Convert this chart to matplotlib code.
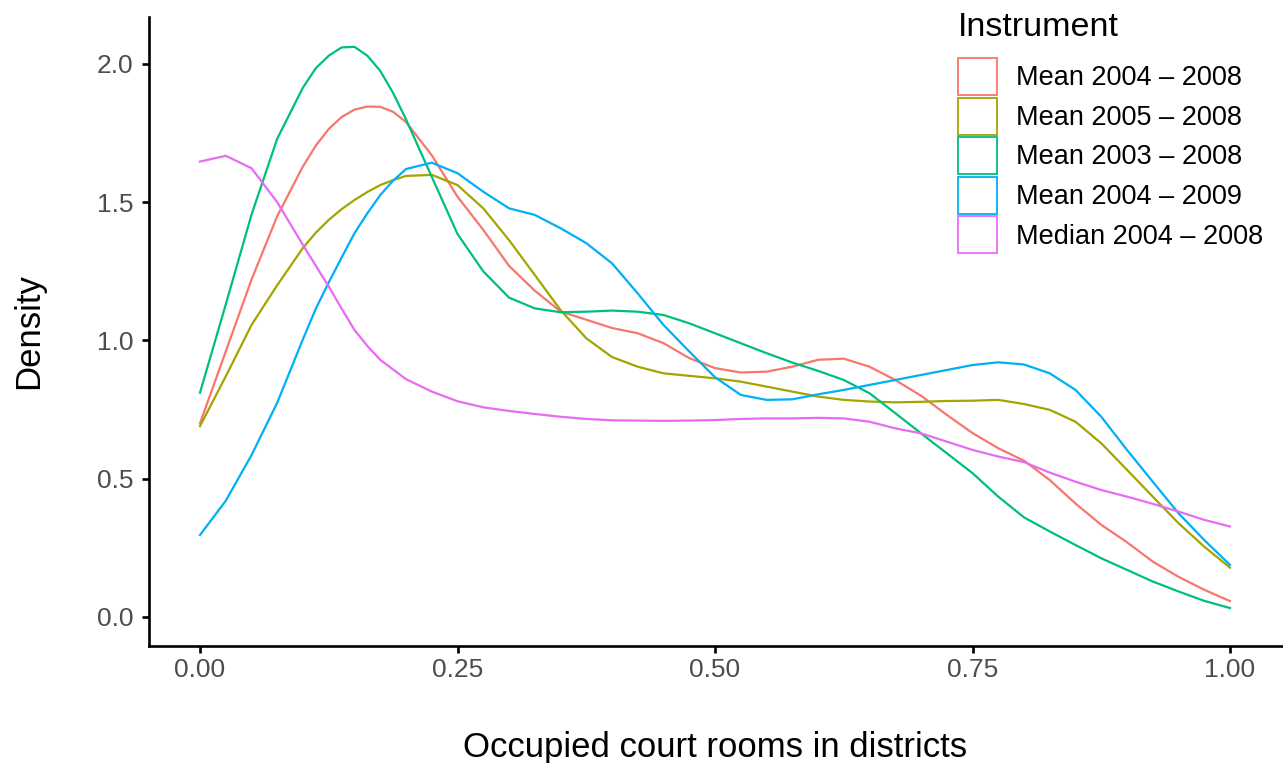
"""Density of occupied court rooms per district, one curve per instrument."""

import matplotlib
matplotlib.use("Agg")
import matplotlib.pyplot as plt
from matplotlib.patches import Patch

plt.rcParams["font.family"] = ["Liberation Sans", "DejaVu Sans"]

# --- data ---
x_grid = [0.0, 0.025, 0.05, 0.075, 0.1, 0.1125, 0.125, 0.1375, 0.15, 0.1625,
          0.175, 0.1875, 0.2, 0.225, 0.25, 0.275, 0.3, 0.325, 0.35, 0.375,
          0.4, 0.425, 0.45, 0.475, 0.5, 0.525, 0.55, 0.575, 0.6, 0.625,
          0.65, 0.675, 0.7, 0.725, 0.75, 0.775, 0.8, 0.825, 0.85, 0.875,
          0.9, 0.925, 0.95, 0.975, 1.0]

mean_04_08 = [0.70, 0.96, 1.22, 1.45, 1.63, 1.705, 1.765, 1.808, 1.835, 1.846,
              1.845, 1.827, 1.79, 1.67, 1.52, 1.40, 1.27, 1.18, 1.105, 1.075,
              1.045, 1.026, 0.99, 0.936, 0.90, 0.884, 0.887, 0.905, 0.93, 0.934,
              0.905, 0.857, 0.80, 0.731, 0.665, 0.61, 0.565, 0.495, 0.41, 0.333,
              0.27, 0.20, 0.145, 0.098, 0.057]
mean_05_08 = [0.69, 0.87, 1.056, 1.20, 1.335, 1.39, 1.436, 1.475, 1.508, 1.537,
              1.562, 1.58, 1.595, 1.599, 1.562, 1.478, 1.363, 1.237, 1.11, 1.008,
              0.94, 0.905, 0.881, 0.872, 0.863, 0.851, 0.833, 0.815, 0.797, 0.785,
              0.779, 0.776, 0.778, 0.781, 0.782, 0.785, 0.77, 0.749, 0.706, 0.628,
              0.532, 0.435, 0.339, 0.254, 0.178]
mean_03_08 = [0.811, 1.13, 1.455, 1.73, 1.915, 1.985, 2.03, 2.06, 2.062, 2.03,
              1.975, 1.895, 1.80, 1.592, 1.385, 1.25, 1.155, 1.116, 1.102, 1.104,
              1.108, 1.104, 1.092, 1.062, 1.026, 0.99, 0.954, 0.92, 0.89, 0.857,
              0.809, 0.737, 0.664, 0.592, 0.52, 0.435, 0.36, 0.309, 0.26, 0.212,
              0.17, 0.128, 0.092, 0.058, 0.032]
mean_04_09 = [0.296, 0.42, 0.585, 0.775, 1.005, 1.115, 1.21, 1.30, 1.388, 1.46,
              1.526, 1.578, 1.62, 1.643, 1.605, 1.538, 1.478, 1.454, 1.406, 1.352,
              1.279, 1.17, 1.056, 0.96, 0.867, 0.803, 0.785, 0.787, 0.805, 0.821,
              0.839, 0.857, 0.875, 0.893, 0.911, 0.921, 0.913, 0.881, 0.821, 0.724,
              0.604, 0.489, 0.375, 0.278, 0.188]
median_04_08 = [1.647, 1.668, 1.623, 1.50, 1.345, 1.27, 1.195, 1.115, 1.038, 0.98,
                0.93, 0.895, 0.86, 0.815, 0.78, 0.758, 0.745, 0.734, 0.724, 0.716,
                0.711, 0.71, 0.709, 0.71, 0.712, 0.716, 0.718, 0.718, 0.72, 0.718,
                0.706, 0.682, 0.664, 0.634, 0.604, 0.58, 0.56, 0.522, 0.489, 0.459,
                0.435, 0.409, 0.381, 0.351, 0.327]

series_labels = ["Mean 2004 – 2008", "Mean 2005 – 2008", "Mean 2003 – 2008",
                 "Mean 2004 – 2009", "Median 2004 – 2008"]
series_values = [mean_04_08, mean_05_08, mean_03_08, mean_04_09, median_04_08]
colors = ["#F8766D", "#A3A500", "#00BF7D", "#00B0F6", "#E76BF3"]

x_ticks = [0.0, 0.25, 0.5, 0.75, 1.0]
x_ticklabels = ["0.00", "0.25", "0.50", "0.75", "1.00"]
y_ticks = [0.0, 0.5, 1.0, 1.5, 2.0]
y_ticklabels = ["0.0", "0.5", "1.0", "1.5", "2.0"]

W, H = 1283, 763
fig = plt.figure(figsize=(W / 100, H / 100), dpi=100)
ax = fig.add_axes([148.5 / W, 1 - 645.5 / H, (1281.5 - 148.5) / W, (645.5 - 17) / H])

for vals, col, lab in zip(series_values, colors, series_labels):
    ax.plot(x_grid, vals, color=col, lw=1.6, label=lab, solid_joinstyle="round")

ax.set_xlim(-0.05, 1.05)
ax.set_ylim(-0.1035, 2.17)

# theme_classic look
for side in ["top", "right"]:
    ax.spines[side].set_visible(False)
for side in ["left", "bottom"]:
    ax.spines[side].set_linewidth(1.9)
ax.set_xticks(x_ticks, x_ticklabels)
ax.set_yticks(y_ticks, y_ticklabels)
ax.tick_params(length=5, width=1.9, labelsize=19, labelcolor="#4D4D4D", pad=4)
ax.tick_params(axis="y", pad=6)

ax.set_xlabel("Occupied court rooms in districts", fontsize=25, labelpad=35)
ax.set_ylabel("Density", fontsize=25, labelpad=37)

# legend: title as its own text, keys as outlined boxes
fig.text(958 / W, 1 - 36 / H, "Instrument", fontsize=24.5, ha="left", va="baseline")
handles = [Patch(facecolor="white", edgecolor=c, linewidth=1.3) for c in colors]
leg = ax.legend(handles, series_labels,
                loc="upper left", bbox_to_anchor=(958 / W, 1 - 58 / H),
                bbox_transform=fig.transFigure, frameon=False,
                fontsize=19.5, handlelength=1.44, handleheight=1.72,
                labelspacing=0.1, handletextpad=0.7, borderpad=0, borderaxespad=0)

fig.savefig("out.png", dpi=100)
